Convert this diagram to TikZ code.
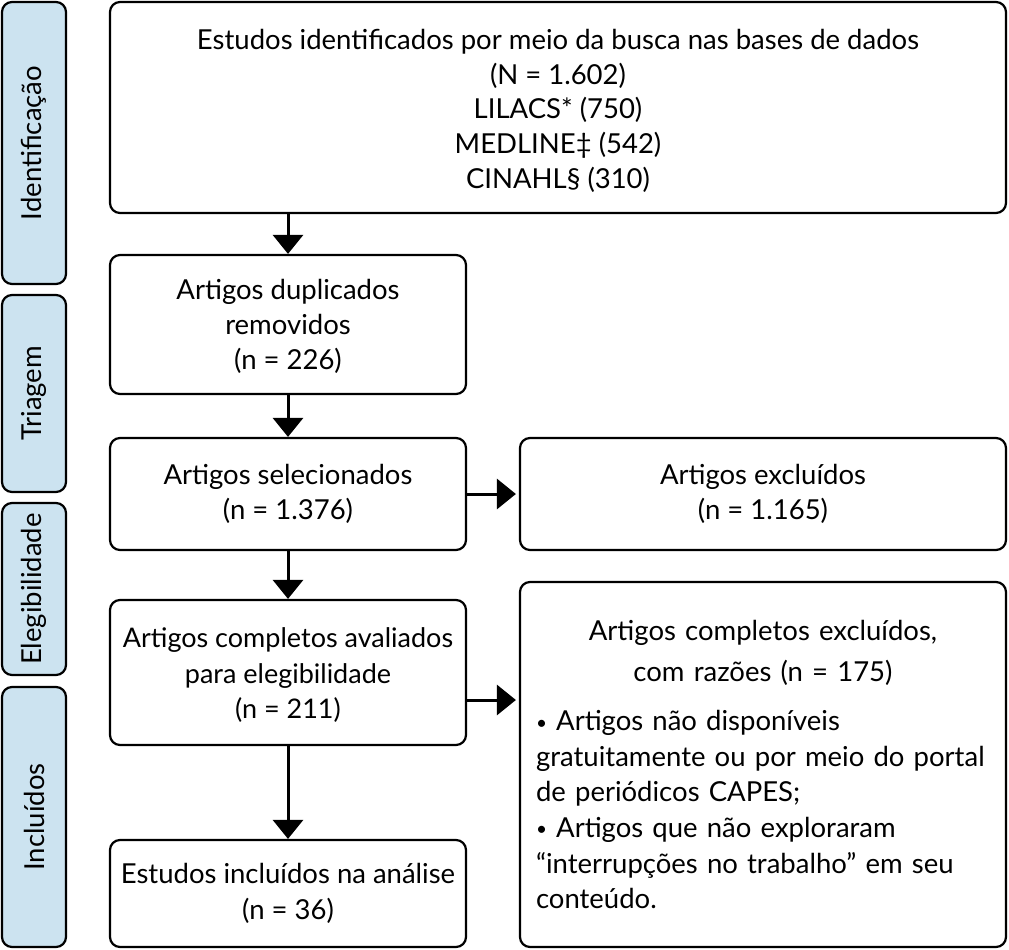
\documentclass[tikz,border=0pt]{standalone}
\usepackage{fontspec}
\setmainfont{Lato}
\usetikzlibrary{arrows.meta}
\definecolor{lblue}{HTML}{CCE3F0}
\newcommand{\bul}{{\fontsize{19}{35.6}\selectfont\raisebox{1.5pt}{•}}}
\begin{document}
\begin{tikzpicture}[x=1pt,y=-1pt,
  box/.style={draw, line width=2.2pt, rounded corners=10pt, align=center, inner sep=0pt,
    font=\fontsize{27.5}{35.3}\selectfont},
  phase/.style={draw, line width=2.2pt, rounded corners=10pt, fill=lblue, rotate=90, inner sep=0pt,
    font=\fontsize{27.5}{30}\selectfont},
  arr/.style={line width=3pt, -{Triangle[width=30pt,length=19pt]}}
]
\useasboundingbox (0,0) rectangle (1009,950);
% phase labels
\node[phase, minimum width=282pt, minimum height=64pt] (ident) at (34,143) {Identificação};
\node[phase, minimum width=197pt, minimum height=64pt] (triag) at (34,393.5) {Triagem};
\node[phase, minimum width=172pt, minimum height=64pt] (eleg) at (34,589) {Elegibilidade};
\node[phase, minimum width=260pt, minimum height=64pt] (incl) at (34,817) {Incluídos};
% boxes
\node[box, minimum width=896pt, minimum height=211pt, font=\fontsize{27.5}{34.8}\selectfont] (b1) at (558,107.5)
  {\rule{0pt}{27pt}Estudos identificados por meio da busca nas bases de dados\\(N = 1.602)\\LILACS* (750)\\MEDLINE‡ (542)\\CINAHL§ (310)};
\node[box, minimum width=356pt, minimum height=139pt] (b2) at (288,324.5)
  {\rule{0pt}{24pt}Artigos duplicados\\removidos\\(n = 226)};
\node[box, minimum width=356pt, minimum height=112pt] (b3) at (288,494)
  {Artigos selecionados\\(n = 1.376)};
\node[box, minimum width=486pt, minimum height=112pt] (exc) at (763,494)
  {Artigos excluídos\\(n = 1.165)};
\node[box, minimum width=356pt, minimum height=145pt, font=\fontsize{27}{35.5}\selectfont] (b4) at (288,672.5)
  {\rule{0pt}{25pt}Artigos completos avaliados\\para elegibilidade\\(n = 211)};
\node[box, minimum width=486pt, minimum height=365pt, text width=454pt, align=left,
  font=\fontsize{27.5}{35.6}\selectfont] (b5) at (763,764.5)
  {\vspace{12pt}{\centering Artigos completos excluídos,\\[-7pt]com razões (n = 175)\par}\vspace{14pt}%
   \bul{} Artigos não disponíveis\\gratuitamente ou por meio do portal\\de periódicos CAPES;\\%
   \bul{} Artigos que não exploraram\\“interrupções no trabalho” em seu\\conteúdo.};
\node[box, minimum width=356pt, minimum height=107pt] (b6) at (288,893.5)
  {Estudos incluídos na análise\\(n = 36)};
% arrows
\draw[arr] (b2.north |- b1.south) -- (b2.north);
\draw[arr] (b2.south) -- (b3.north);
\draw[arr] (b3.south) -- (b4.north);
\draw[arr] (b4.south) -- (b6.north);
\draw[arr, shorten >=3pt] (b3.east) -- (exc.west);
\draw[arr, shorten >=3pt] (b4.east |- 0,700) -- (b5.west |- 0,700);
\end{tikzpicture}
\end{document}
